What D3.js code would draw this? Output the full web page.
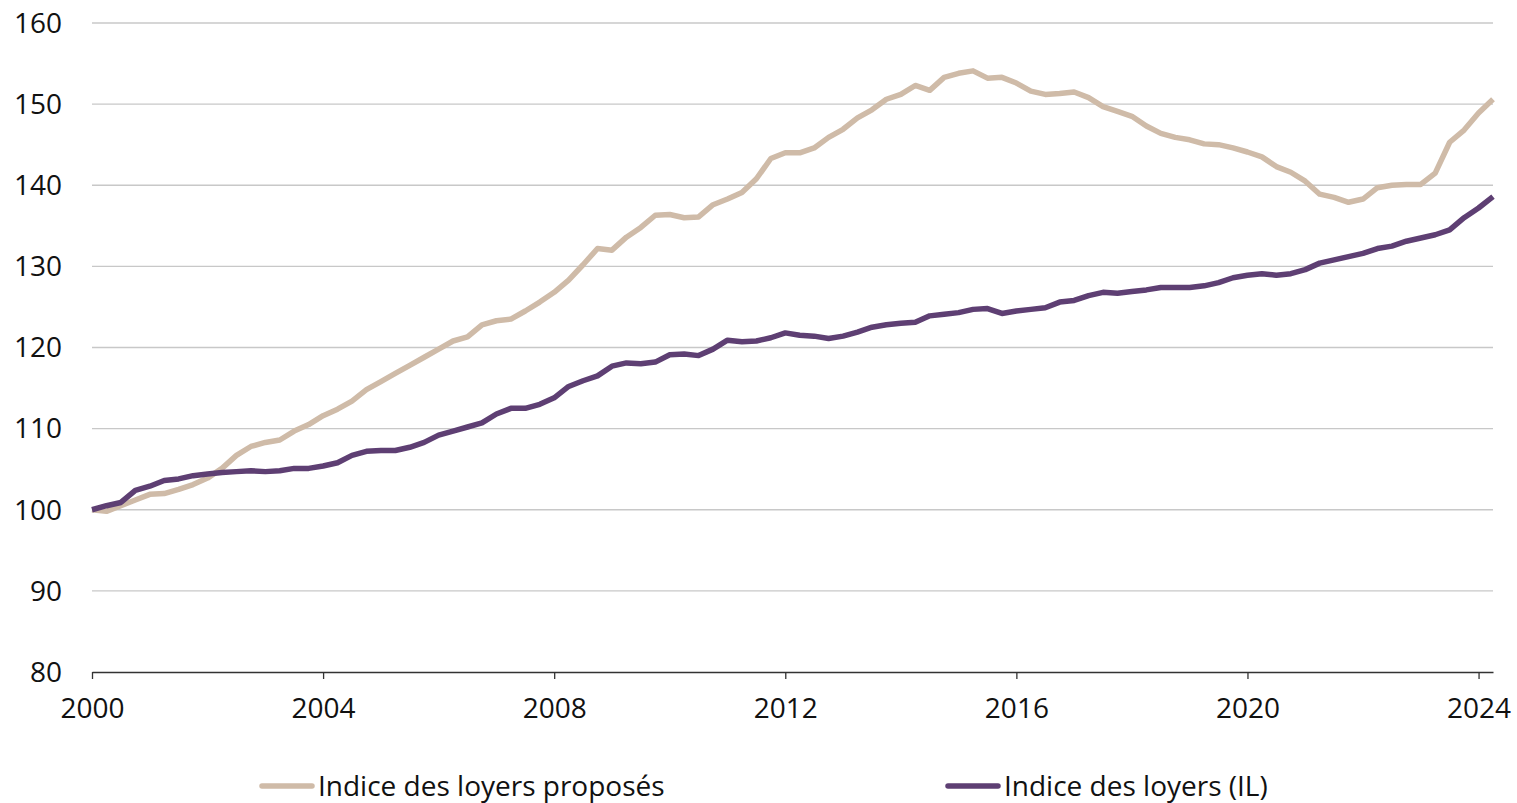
<!DOCTYPE html>
<html>
<head>
<meta charset="utf-8">
<script src="https://cdn.jsdelivr.net/npm/d3@7"></script>
<style>
body { margin: 0; background: #fff; }
svg text { font-family: "Open Sans", "Noto Sans", sans-serif; fill: #111; }
.grid line { stroke: #c8c8c8; stroke-width: 1.3; }
.x-axis path, .x-axis line { stroke: #333; stroke-width: 1.3; }
</style>
</head>
<body>
<svg id="chart" width="1517" height="803"></svg>
<script>
// quarterly values, 2000 Q1 .. 2024 Q2
const startYear = 2000;
const offeredRents = [
  100.0, 99.8, 100.5, 101.2,
  101.9, 102.0, 102.5, 103.1,
  103.9, 105.1, 106.7, 107.8,
  108.3, 108.6, 109.7, 110.5,
  111.6, 112.4, 113.4, 114.8,
  115.8, 116.8, 117.8, 118.8,
  119.8, 120.8, 121.3, 122.8,
  123.3, 123.5, 124.5, 125.6,
  126.8, 128.3, 130.2, 132.2,
  132.0, 133.6, 134.8, 136.3,
  136.4, 136.0, 136.1, 137.6,
  138.3, 139.1, 140.8, 143.3,
  144.0, 144.0, 144.6, 145.9,
  146.9, 148.3, 149.3, 150.6,
  151.2, 152.3, 151.7, 153.3,
  153.8, 154.1, 153.2, 153.3,
  152.6, 151.6, 151.2, 151.3,
  151.5, 150.8, 149.7, 149.1,
  148.5, 147.3, 146.4, 145.9,
  145.6, 145.1, 145.0, 144.6,
  144.1, 143.5, 142.3, 141.6,
  140.5, 138.9, 138.5, 137.9,
  138.3, 139.7, 140.0, 140.1,
  140.1, 141.5, 145.3, 146.8,
  148.9, 150.6
];
const rentIndex = [
  100.0, 100.5, 100.9, 102.4,
  102.9, 103.6, 103.8, 104.2,
  104.4, 104.6, 104.7, 104.8,
  104.7, 104.8, 105.1, 105.1,
  105.4, 105.8, 106.7, 107.2,
  107.3, 107.3, 107.7, 108.3,
  109.2, 109.7, 110.2, 110.7,
  111.8, 112.5, 112.5, 113.0,
  113.8, 115.2, 115.9, 116.5,
  117.7, 118.1, 118.0, 118.2,
  119.1, 119.2, 119.0, 119.8,
  120.9, 120.7, 120.8, 121.2,
  121.8, 121.5, 121.4, 121.1,
  121.4, 121.9, 122.5, 122.8,
  123.0, 123.1, 123.9, 124.1,
  124.3, 124.7, 124.8, 124.2,
  124.5, 124.7, 124.9, 125.6,
  125.8, 126.4, 126.8, 126.7,
  126.9, 127.1, 127.4, 127.4,
  127.4, 127.6, 128.0, 128.6,
  128.9, 129.1, 128.9, 129.1,
  129.6, 130.4, 130.8, 131.2,
  131.6, 132.2, 132.5, 133.1,
  133.5, 133.9, 134.5, 136.0,
  137.2, 138.6
];
const yTicks = [80, 90, 100, 110, 120, 130, 140, 150, 160];
const xTicks = [2000, 2004, 2008, 2012, 2016, 2020, 2024];
const seriesNames = ["Indice des loyers proposés", "Indice des loyers (IL)"];
const seriesColors = ["#cfbba8", "#5e3f73"];

const svg = d3.select("#chart");
const x = d3.scaleLinear().domain([2000, 2024.25]).range([92, 1493]);
const y = d3.scaleLinear().domain([80, 160]).range([672, 23]);

// gridlines
svg.append("g").attr("class", "grid")
  .selectAll("line")
  .data(yTicks.filter(d => d > 80))
  .join("line")
  .attr("x1", x.range()[0]).attr("x2", x.range()[1])
  .attr("y1", d => y(d)).attr("y2", d => y(d));

// y labels
svg.append("g")
  .selectAll("text")
  .data(yTicks)
  .join("text")
  .attr("x", 62)
  .attr("y", d => y(d))
  .attr("dy", "0.35em")
  .attr("text-anchor", "end")
  .attr("font-size", 28)
  .text(d => d);

// x axis
const gx = svg.append("g").attr("class", "x-axis")
  .attr("transform", `translate(0,${y(80)})`)
  .call(d3.axisBottom(x).tickValues(xTicks).tickSize(7).tickSizeOuter(0).tickFormat(d3.format("d")));
gx.selectAll("text").attr("font-size", 28).attr("dy", "1.3em")
  .style("font-family", "'Open Sans', sans-serif").attr("fill", "#111");

// lines
const series = [offeredRents, rentIndex];
const line = d3.line()
  .x((d, i) => x(startYear + i / 4))
  .y(d => y(d));

series.forEach((s, k) => {
  svg.append("path")
    .datum(s)
    .attr("fill", "none")
    .attr("stroke", seriesColors[k])
    .attr("stroke-width", 5.5)
    .attr("stroke-linejoin", "round")
    .attr("d", line);
});

// legend
const legendX = [260, 946];
const legend = svg.append("g");
seriesNames.forEach((name, k) => {
  const g = legend.append("g").attr("transform", `translate(${legendX[k]},786)`);
  g.append("line")
    .attr("x1", 2).attr("x2", 52)
    .attr("stroke", seriesColors[k])
    .attr("stroke-width", 5.5)
    .attr("stroke-linecap", "round");
  g.append("text")
    .attr("x", 58)
    .attr("dy", "0.35em")
    .attr("font-size", 28)
    .text(name);
});
</script>
</body>
</html>
